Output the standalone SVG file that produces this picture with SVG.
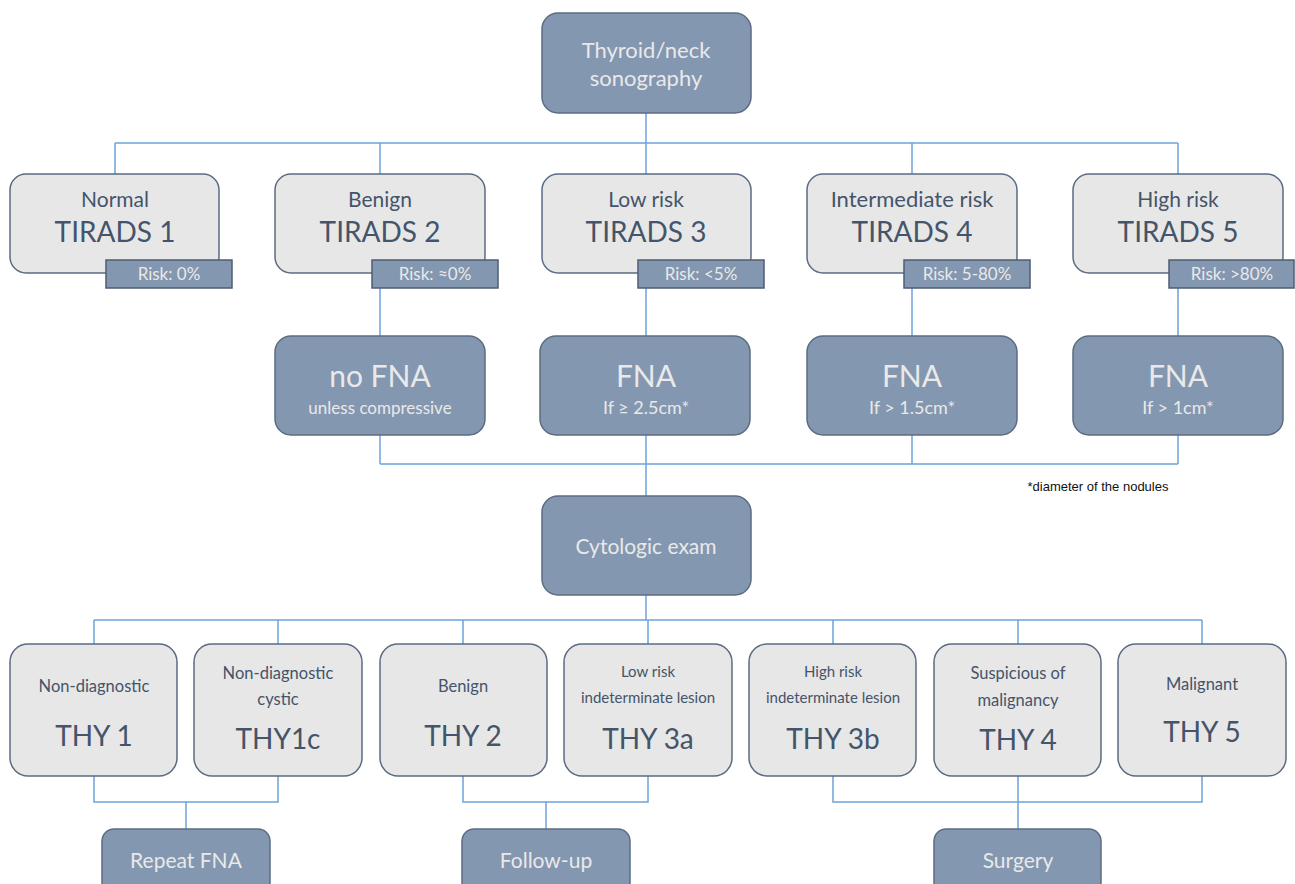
<svg xmlns="http://www.w3.org/2000/svg" width="1295" height="884" viewBox="0 0 1295 884">
<style>
.dk{fill:#8497B0;stroke:#5B6C82;stroke-width:1.5}
.lt{fill:#E7E7E7;stroke:#5B6C82;stroke-width:1.5}
.tag{fill:#8497B0;stroke:#4E5D72;stroke-width:1.5}
.ln{fill:none;stroke:#6FA3DA;stroke-width:1.5}
text{font-family:Lato,"Liberation Sans",sans-serif;text-anchor:middle}
.w{fill:#E9E9E9}
.d{fill:#44546A}
.s20{font-size:21px}
.s28{font-size:28px}
.s30{font-size:30px}
.s16{font-size:16.5px}
.s15{font-size:15px}
.s17{font-size:17px}
</style>
<rect width="1295" height="884" fill="#FFFFFF"/>
<g id="connectors">
<path class="ln" d="M646 113V143M115 143H1178M115 143V174M380 143V174M646 143V174M912 143V174M1178 143V174"/>
<path class="ln" d="M380 288V336M646 288V336M912 288V336M1178 288V336"/>
<path class="ln" d="M380 435V464M646 435V496M912 435V464M1178 435V464M380 464H1178"/>
<path class="ln" d="M646 595V620M94 620H1202M94 620V644M278 620V644M463 620V644M648 620V644M833 620V644M1018 620V644M1202 620V644"/>
<path class="ln" d="M94 776V802H278V776M186 802V829"/>
<path class="ln" d="M463 776V802H648V776M546 802V829"/>
<path class="ln" d="M833 776V802H1202V776M1018 776V829"/>
</g>
<g id="sono"><rect class="dk" x="542" y="13" width="209" height="100" rx="16"/><text class="w" x="646" y="58" font-size="22">Thyroid/neck</text><text class="w" x="646" y="86" font-size="22">sonography</text></g>

<g id="tirads1"><rect class="lt" x="10" y="174" width="209" height="99" rx="16"/><text class="d s20" x="115" y="207">Normal</text><text class="d s28" x="115" y="242">TIRADS 1</text><rect class="tag" x="106" y="260" width="126" height="28"/><text class="w s17" x="169" y="280">Risk: 0%</text></g>
<g id="tirads2"><rect class="lt" x="275" y="174" width="210" height="99" rx="16"/><text class="d s20" x="380" y="207">Benign</text><text class="d s28" x="380" y="242">TIRADS 2</text><rect class="tag" x="372" y="260" width="126" height="28"/><text class="w s17" x="435" y="280">Risk: ≈0%</text></g>
<g id="tirads3"><rect class="lt" x="542" y="174" width="209" height="99" rx="16"/><text class="d s20" x="646" y="207">Low risk</text><text class="d s28" x="646" y="242">TIRADS 3</text><rect class="tag" x="638" y="260" width="126" height="28"/><text class="w s17" x="701" y="280">Risk: &lt;5%</text></g>
<g id="tirads4"><rect class="lt" x="807" y="174" width="210" height="99" rx="16"/><text class="d" x="912" y="207" font-size="22">Intermediate risk</text><text class="d s28" x="912" y="242">TIRADS 4</text><rect class="tag" x="904" y="260" width="126" height="28"/><text class="w s17" x="967" y="280">Risk: 5-80%</text></g>
<g id="tirads5"><rect class="lt" x="1073" y="174" width="210" height="99" rx="16"/><text class="d s20" x="1178" y="207">High risk</text><text class="d s28" x="1178" y="242">TIRADS 5</text><rect class="tag" x="1169" y="260" width="125" height="28"/><text class="w s17" x="1232" y="280">Risk: &gt;80%</text></g>

<g id="nofna"><rect class="dk" x="275" y="336" width="210" height="99" rx="16"/><text class="w s30" x="380" y="387">no FNA</text><text class="w s17" x="380" y="414">unless compressive</text></g>
<g id="fna3"><rect class="dk" x="540" y="336" width="210" height="99" rx="16"/><text class="w s30" x="646" y="387">FNA</text><text class="w" x="646" y="414" font-size="18">If ≥ 2.5cm*</text></g>
<g id="fna4"><rect class="dk" x="807" y="336" width="210" height="99" rx="16"/><text class="w s30" x="912" y="387">FNA</text><text class="w" x="912" y="414" font-size="18">If &gt; 1.5cm*</text></g>
<g id="fna5"><rect class="dk" x="1073" y="336" width="210" height="99" rx="16"/><text class="w s30" x="1178" y="387">FNA</text><text class="w" x="1178" y="414" font-size="18">If &gt; 1cm*</text></g>
<text x="1098" y="491" font-size="13" style="font-family:'Liberation Sans',Arial,sans-serif" fill="#111">*diameter of the nodules</text>

<g id="cyto"><rect class="dk" x="542" y="496" width="209" height="99" rx="16"/><text class="w s20" x="646" y="554">Cytologic exam</text></g>

<g id="thy1"><rect class="lt" x="10" y="644" width="167" height="132" rx="18"/><text class="d s16" x="94" y="692">Non-diagnostic</text><text class="d s28" x="94" y="746">THY 1</text></g>
<g id="thy1c"><rect class="lt" x="194" y="644" width="168" height="132" rx="18"/><text class="d s16" x="278" y="679">Non-diagnostic</text><text class="d s16" x="278" y="705">cystic</text><text class="d s28" x="278" y="749">THY1c</text></g>
<g id="thy2"><rect class="lt" x="380" y="644" width="167" height="132" rx="18"/><text class="d s16" x="463" y="692">Benign</text><text class="d s28" x="463" y="746">THY 2</text></g>
<g id="thy3a"><rect class="lt" x="564" y="644" width="168" height="132" rx="18"/><text class="d s15" x="648" y="677">Low risk</text><text class="d s15" x="648" y="703">indeterminate lesion</text><text class="d s28" x="648" y="749">THY 3a</text></g>
<g id="thy3b"><rect class="lt" x="749" y="644" width="167" height="132" rx="18"/><text class="d s15" x="833" y="677">High risk</text><text class="d s15" x="833" y="703">indeterminate lesion</text><text class="d s28" x="833" y="749">THY 3b</text></g>
<g id="thy4"><rect class="lt" x="934" y="644" width="167" height="132" rx="18"/><text class="d s16" x="1018" y="679">Suspicious of</text><text class="d s16" x="1018" y="706">malignancy</text><text class="d s28" x="1018" y="750">THY 4</text></g>
<g id="thy5"><rect class="lt" x="1118" y="644" width="168" height="132" rx="18"/><text class="d s16" x="1202" y="690">Malignant</text><text class="d s28" x="1202" y="742">THY 5</text></g>

<g id="repeat"><rect class="dk" x="102" y="829" width="168" height="70" rx="12"/><text class="w s20" x="186" y="868">Repeat FNA</text></g>
<g id="follow"><rect class="dk" x="462" y="829" width="168" height="70" rx="12"/><text class="w s20" x="546" y="868">Follow-up</text></g>
<g id="surgery"><rect class="dk" x="934" y="829" width="167" height="70" rx="12"/><text class="w s20" x="1018" y="868">Surgery</text></g>
</svg>
